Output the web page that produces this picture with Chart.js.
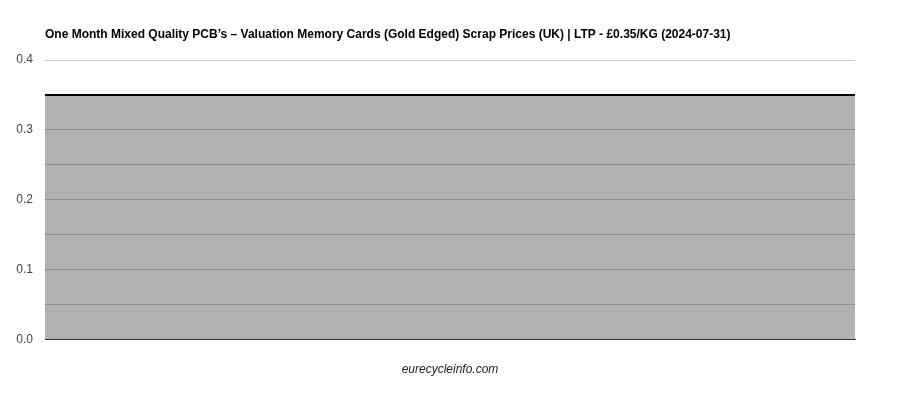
<!DOCTYPE html>
<html>
<head>
<meta charset="utf-8">
<script src="https://cdn.jsdelivr.net/npm/chart.js@4.4.0/dist/chart.umd.min.js"></script>
<style>
html,body{margin:0;padding:0;background:#fff;}
#wrap{width:900px;height:400px;}
</style>
</head>
<body>
<div id="wrap"><canvas id="c" width="900" height="400"></canvas></div>
<script>
const chartTitle = "One Month Mixed Quality PCB\u2019s \u2013 Valuation Memory Cards (Gold Edged) Scrap Prices (UK) | LTP - \u00a30.35/KG (2024-07-31)";
const xTitle = "eurecycleinfo.com";
const dates = ["2024-07-01","2024-07-03","2024-07-05","2024-07-07","2024-07-09","2024-07-11","2024-07-13","2024-07-15","2024-07-17","2024-07-19","2024-07-21","2024-07-23","2024-07-25","2024-07-27","2024-07-29","2024-07-30","2024-07-31"];
const prices = [0.35,0.35,0.35,0.35,0.35,0.35,0.35,0.35,0.35,0.35,0.35,0.35,0.35,0.35,0.35,0.35,0.35];
const yMin = 0, yMax = 0.4, yStep = 0.05;

const titlePlugin = {
  id: 'leftTitle',
  afterDraw(chart) {
    const ctx = chart.ctx;
    ctx.save();
    ctx.font = "bold 12px 'Liberation Sans', Arial, sans-serif";
    ctx.fillStyle = '#000';
    ctx.textAlign = 'left';
    ctx.textBaseline = 'middle';
    ctx.fillText(chartTitle, chart.chartArea.left, 35);
    ctx.restore();
  }
};

new Chart(document.getElementById('c'), {
  type: 'line',
  data: {
    labels: dates,
    datasets: [{
      data: prices,
      borderColor: '#000',
      borderWidth: 2,
      backgroundColor: 'rgba(0,0,0,0.3)',
      fill: 'origin',
      pointRadius: 0,
      tension: 0
    }]
  },
  options: {
    responsive: false,
    animation: false,
    layout: { padding: { top: 60, right: 45, bottom: 23, left: 0 } },
    plugins: { legend: { display: false }, tooltip: { enabled: false }, title: { display: false } },
    scales: {
      x: {
        grid: { display: false },
        border: { display: true, color: '#333', width: 1 },
        ticks: { display: false },
        title: {
          display: true, text: xTitle, color: '#222',
          font: { family: "'Liberation Sans', Arial, sans-serif", size: 12, style: 'italic' },
          padding: { top: 15, bottom: 0 }
        }
      },
      y: {
        min: yMin, max: yMax,
        afterFit(s) { s.width = 45; },
        grid: { color: '#cccccc', drawTicks: false },
        border: { display: false },
        ticks: {
          stepSize: yStep,
          color: '#444',
          padding: 12,
          font: { family: "'Liberation Sans', Arial, sans-serif", size: 12 },
          callback(v) {
            const r = Math.round(v * 100);
            return r % 10 === 0 ? (v).toFixed(1) : '';
          }
        }
      }
    }
  },
  plugins: [titlePlugin]
});
</script>
</body>
</html>
